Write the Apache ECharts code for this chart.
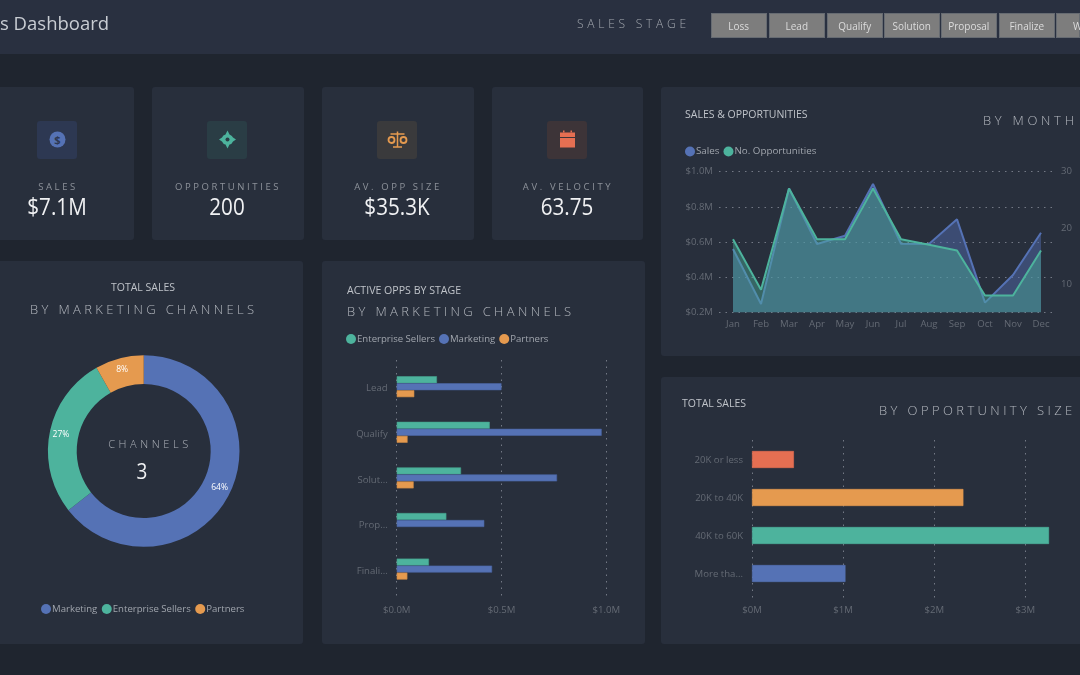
<!DOCTYPE html>
<html><head><meta charset="utf-8">
<script src="https://cdn.jsdelivr.net/npm/echarts@6/dist/echarts.min.js"></script>
<style>
html,body{margin:0;padding:0;background:#1f252f;width:1080px;height:675px;overflow:hidden;font-family:"Open Sans",sans-serif}
#stage{position:absolute;left:0;top:0;width:1080px;height:675px;overflow:hidden}
.panel{position:absolute;background:#282f3c;border-radius:3px}
.t{position:absolute;white-space:nowrap;transform:translateY(-50%);line-height:1}
.btn{position:absolute;top:13px;height:25px;line-height:27px;background:#7d7d7d;box-shadow:inset 0 0 0 1px #666b72;color:#dcdcdc;font-size:10px;text-align:center;overflow:hidden}
.ico{position:absolute;top:120.5px;width:40px;height:38.5px;border-radius:3px}
.ico svg{position:absolute;left:9.5px;top:8.5px;width:21px;height:21px}
#chart{position:absolute;left:0;top:0;width:1080px;height:675px}
</style></head><body>
<div id="stage"><div id="chart"></div></div>
<script>
const BLUE='#5572b5',TEAL='#4db39d',ORANGE='#e59a4f',RED='#e56f52';
const DIM='#646a74',LEG='#a0a5ad';
const FONT='"Open Sans",sans-serif';

const months=['Jan','Feb','Mar','Apr','May','Jun','Jul','Aug','Sep','Oct','Nov','Dec'];
const monthlySales=[0.56,0.247,0.905,0.589,0.636,0.93,0.59,0.589,0.729,0.255,0.412,0.653];
const monthlyOpps=[18,9,27,18,18,27,18,17,16,8,8,16];

const channelNames=['Marketing','Enterprise Sellers','Partners'];
const channelShares=[64.4,27.4,8.2];

const stageLabels=['Lead','Qualify','Solut...','Prop...','Finali...'];
const stageEnterprise=[0.192,0.444,0.307,0.237,0.154];
const stageMarketing=[0.5,0.978,0.765,0.418,0.455];
const stagePartners=[0.084,0.052,0.081,null,0.051];

const sizeLabels=['20K or less','20K to 40K','40K to 60K','More tha...'];
const sizeSales=[0.46,2.32,3.26,1.026];
const sizeColors=[RED,ORANGE,TEAL,BLUE];

const stageButtons=['Loss','Lead','Qualify','Solution','Proposal','Finalize','W'];
const kpiLabels=['SALES','OPPORTUNITIES','AV. OPP SIZE','AV. VELOCITY'];
const kpiValues=['$7.1M','200','$35.3K','63.75'];

const stage=document.getElementById('stage');
const chartEl=document.getElementById('chart');
function panel(l,t,w,h){const d=document.createElement('div');d.className='panel';d.style.cssText=`left:${l}px;top:${t}px;width:${w}px;height:${h}px`;stage.insertBefore(d,chartEl);}
[[-20,87,154,153],[152,87,152,153],[322,87,152,153],[492,87,151,153],[661,87,440,269],[661,377,440,267],[-20,261,323,383],[322,261,323,383]].forEach(p=>panel(...p));
const hdr=document.createElement('div');hdr.style.cssText='position:absolute;left:0;top:0;width:1080px;height:54px;background:#293040';stage.insertBefore(hdr,chartEl);

function text(s,x,y,size,color,spacing,opts){opts=opts||{};const d=document.createElement('div');d.className='t';d.textContent=s;
 let st=`top:${y}px;font-size:${size}px;color:${color};letter-spacing:${spacing||0}px;font-weight:${opts.w||400};font-family:${opts.f||FONT};`;
 if(opts.center) st+=`left:${x}px;transform:translate(-50%,-50%) scaleX(${opts.sx||1});`; else st+=`left:${x}px;`;
 d.style.cssText=st;stage.appendChild(d);}

text('s Dashboard',0,23,18.5,'#c9cdd3',0);
text('SALES STAGE',577,24,12,'#a3a8af',3.75,{w:300});
const btnX=[711,769,827,884,941,999,1056];
stageButtons.forEach((b,i)=>{const d=document.createElement('div');d.className='btn';d.textContent=b;
 d.style.left=btnX[i]+'px';d.style.width=(i===6?24:55.5)+'px';if(i===6){d.style.textAlign='left';d.style.paddingLeft='17px';d.style.width='7px';}stage.appendChild(d);});

const kpiCx=[57,227,397,567];
const icoBg=['#2d3852','#2a3d45','#3a3a3c','#3d3438'];
const icons=[
 `<circle cx="10.5" cy="10.5" r="8" fill="${BLUE}"/><text x="10.5" y="14.5" text-anchor="middle" font-size="11" font-weight="700" fill="#2d3852" font-family="Open Sans">$</text>`,
 `<path d="M10.5 1.5 L12.5 5.5 Q15.5 7 16 8.5 L19 10.5 L16 12.5 Q15 15 12.5 15.5 L10.5 19.5 L8.5 15.5 Q6 15 5 12.5 L2 10.5 L5 8.5 Q6 6 8.5 5.5 Z" fill="${TEAL}"/><circle cx="10.5" cy="10.5" r="2" fill="#2a3d45"/>`,
 `<path d="M10.5 2.5V17.5M6 18H15M3.5 5H17.5" stroke="${ORANGE}" stroke-width="1.5" fill="none"/><circle cx="4.5" cy="11" r="3" fill="none" stroke="${ORANGE}" stroke-width="1.8"/><circle cx="16.5" cy="11" r="3" fill="none" stroke="${ORANGE}" stroke-width="1.8"/>`,
 `<rect x="3" y="3.5" width="15" height="4.5" fill="${RED}"/><rect x="3" y="9" width="15" height="9.5" fill="${RED}"/><rect x="6" y="1.5" width="1.5" height="2" fill="${RED}"/><rect x="13.5" y="1.5" width="1.5" height="2" fill="${RED}"/>`
];
kpiCx.forEach((cx,i)=>{
 const d=document.createElement('div');d.className='ico';d.style.left=(cx-20)+'px';d.style.background=icoBg[i];
 d.innerHTML=`<svg viewBox="0 0 21 21">${icons[i]}</svg>`;stage.appendChild(d);
 text(kpiLabels[i],cx+1,186.5,9.5,'#8d929a',2.6,{center:1});
 text(kpiValues[i],cx,206,24,'#f0f1f3',0,{center:1,sx:0.86});
});

text('TOTAL SALES',143,287,10.5,'#bfc3c9',0,{center:1});
text('BY MARKETING CHANNELS',30,309,13,'#b3b7be',3.35,{w:300});
text('CHANNELS',150,443,11,'#aeb2b9',3.6,{center:1,w:300});
text('3',142,470,22,'#f0f1f3',0,{center:1,sx:0.86});
text('ACTIVE OPPS BY STAGE',347,290,10.6,'#bfc3c9',0);
text('BY MARKETING CHANNELS',347,311,13,'#b3b7be',3.35,{w:300});
text('SALES & OPPORTUNITIES',685,114,10.5,'#bfc3c9',0);
text('BY MONTH',983,120,13,'#b3b7be',3.7,{w:300});
text('TOTAL SALES',682,403,10.5,'#bfc3c9',0);
text('BY OPPORTUNITY SIZE',879,410,13,'#b3b7be',3.4,{w:300});

const axisText={color:DIM,fontSize:9.6,fontFamily:FONT};
const dotted={show:true,lineStyle:{type:[1.5,5],color:'#737985',width:1}};
const none={show:false};
function legendOf(names,left,top,gap,size){return {left,top,data:names,icon:'circle',itemWidth:10,itemHeight:10,itemGap:gap,selectedMode:false,padding:0,
 itemStyle:{borderWidth:0},
 textStyle:{color:LEG,fontSize:size,fontFamily:FONT,padding:[0,0,0,-4]}};}

const option={
 animation:false,backgroundColor:'transparent',
 legend:[
  legendOf(['Sales','No. Opportunities'],685,146.5,4,9.8),
  legendOf(channelNames,41,604,4.5,9.6),
  legendOf(['Enterprise Sellers','Marketing','Partners'],346,334,4,9.6)
 ],
 grid:[
  {left:719,top:171.7,width:336,height:140.6},
  {left:396.7,top:360,width:209.6,height:240},
  {left:396.7,top:363.9,width:209.6,height:228},
  {left:752,top:440,width:318.9,height:160},
  {left:752,top:440.5,width:318.9,height:152}
 ],
 xAxis:[
  {gridIndex:0,type:'category',data:months,boundaryGap:true,axisLine:none,axisTick:none,axisLabel:{...axisText,margin:6.5,interval:0}},
  {gridIndex:1,type:'value',min:0,max:1,interval:0.5,axisLine:none,axisTick:none,splitLine:dotted,axisLabel:{...axisText,margin:5,formatter:v=>'$'+v.toFixed(1)+'M'}},
  {gridIndex:2,type:'value',min:0,max:1,show:false,splitLine:none},
  {gridIndex:3,type:'value',min:0,max:3.5,interval:1,axisLine:none,axisTick:none,splitLine:{...dotted,showMaxLine:false},axisLabel:{...axisText,margin:5,showMaxLabel:false,formatter:v=>'$'+v+'M'}},
  {gridIndex:4,type:'value',min:0,max:3.5,show:false,splitLine:none}
 ],
 yAxis:[
  {gridIndex:0,type:'value',min:0.2,max:1,interval:0.2,axisLine:none,axisTick:none,splitLine:dotted,axisLabel:{...axisText,margin:6,formatter:v=>'$'+v.toFixed(1)+'M'}},
  {gridIndex:0,type:'value',position:'right',min:5,max:30,interval:5,axisLine:none,axisTick:none,splitLine:none,axisLabel:{...axisText,margin:6,formatter:v=>v%10===0?String(v):''}},
  {gridIndex:1,type:'category',data:stageLabels,show:false},
  {gridIndex:2,type:'category',data:stageLabels,inverse:true,axisLine:none,axisTick:none,axisLabel:{...axisText,margin:9,interval:0,verticalAlign:'top',padding:[-3,0,0,0]}},
  {gridIndex:3,type:'category',data:sizeLabels,show:false},
  {gridIndex:4,type:'category',data:sizeLabels,inverse:true,axisLine:none,axisTick:none,axisLabel:{...axisText,margin:9,interval:0,verticalAlign:'top',padding:[-4,0,0,0]}}
 ],
 series:[
  {name:'Sales',type:'line',xAxisIndex:0,yAxisIndex:0,data:monthlySales,symbol:'none',color:BLUE,lineStyle:{width:2,color:BLUE},areaStyle:{color:BLUE,opacity:0.45,origin:'start'},z:3},
  {name:'No. Opportunities',type:'line',xAxisIndex:0,yAxisIndex:1,data:monthlyOpps,symbol:'none',color:TEAL,lineStyle:{width:2,color:TEAL},areaStyle:{color:TEAL,opacity:0.42,origin:'start'},z:4},
  {name:'Channels',type:'pie',center:[143.7,451],radius:[67,95.8],startAngle:90,clockwise:true,
   color:[BLUE,TEAL,ORANGE],data:channelNames.map((n,i)=>({name:n,value:channelShares[i]})),
   label:{show:true,position:'inside',color:'#fff',fontSize:8.5,fontWeight:500,fontFamily:FONT,formatter:p=>Math.round(p.percent)+'%'},labelLine:none,itemStyle:{borderWidth:0}},
  {name:'Enterprise Sellers',type:'bar',xAxisIndex:2,yAxisIndex:3,data:stageEnterprise,color:TEAL,barWidth:7,barGap:0,itemStyle:{borderColor:'#459f8c',borderWidth:0.6}},
  {name:'Marketing',type:'bar',xAxisIndex:2,yAxisIndex:3,data:stageMarketing,color:BLUE,barWidth:7,barGap:0,itemStyle:{borderColor:'#4a65a3',borderWidth:0.6}},
  {name:'Partners',type:'bar',xAxisIndex:2,yAxisIndex:3,data:stagePartners,color:ORANGE,barWidth:7,barGap:0,itemStyle:{borderColor:'#c98845',borderWidth:0.6}},
  {name:'Total Sales',type:'bar',xAxisIndex:4,yAxisIndex:5,barWidth:17,data:sizeSales.map((v,i)=>({value:v,itemStyle:{color:sizeColors[i],borderColor:sizeColors[i],borderWidth:0.6}}))}
 ]
};
const chart=echarts.init(chartEl,null,{renderer:'canvas',width:1080,height:675});
chart.setOption(option);
</script>
</body></html>
